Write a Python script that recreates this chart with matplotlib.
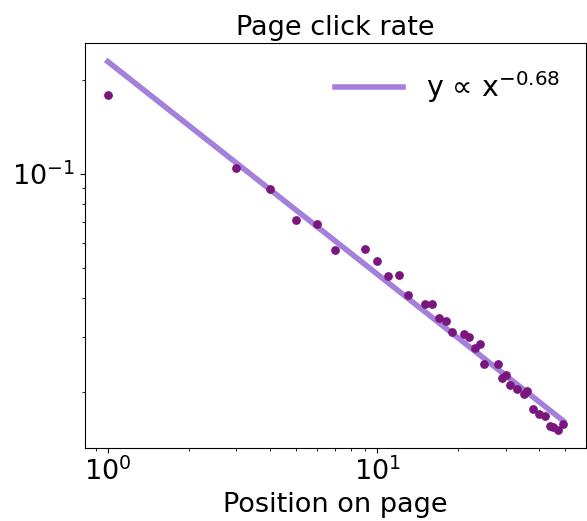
import numpy as np
import matplotlib
matplotlib.use("Agg")
import matplotlib.pyplot as plt

# click rate per position on the page
positions = [1, 3, 4, 5, 6, 7, 9, 10, 11, 12, 13, 15, 16, 17, 18, 19, 21, 22, 23, 24,
             25, 28, 29, 30, 31, 33, 35, 36, 38, 40, 42, 44, 45, 47, 49]
click_rate = [0.179, 0.1045, 0.0895, 0.0713, 0.0692, 0.057, 0.0575, 0.0526, 0.0471, 0.0475,
              0.0409, 0.0383, 0.0383, 0.0345, 0.0338, 0.0312, 0.0307, 0.0302, 0.0278, 0.0285,
              0.0246, 0.0247, 0.0223, 0.0228, 0.0211, 0.0205, 0.0197, 0.0202, 0.0177, 0.0171,
              0.0168, 0.0156, 0.0155, 0.0152, 0.0159]

# power-law fit: y = c * x^k
fit_c = 0.229
fit_k = -0.68
fit_x = np.array([1, 49])

fs = 19.5

fig, ax = plt.subplots(figsize=(5.87, 5.21), dpi=100)
fig.subplots_adjust(left=0.145, right=0.998, bottom=0.14, top=0.917)

ax.plot(fit_x, fit_c * fit_x ** fit_k, color="#a47fdc", lw=4,
        label=r"y ∝ x$^{-0.68}$", zorder=1)
ax.scatter(positions, click_rate, color="#7a177e", s=28, zorder=2)

ax.set_xscale("log")
ax.set_yscale("log")
ax.set_title("Page click rate", fontsize=fs)
ax.set_xlabel("Position on page", fontsize=fs)
ax.tick_params(labelsize=fs)
ax.legend(frameon=False, loc="upper right", fontsize=20.5, handlelength=2.4)

plt.savefig("out.png", dpi=100)
